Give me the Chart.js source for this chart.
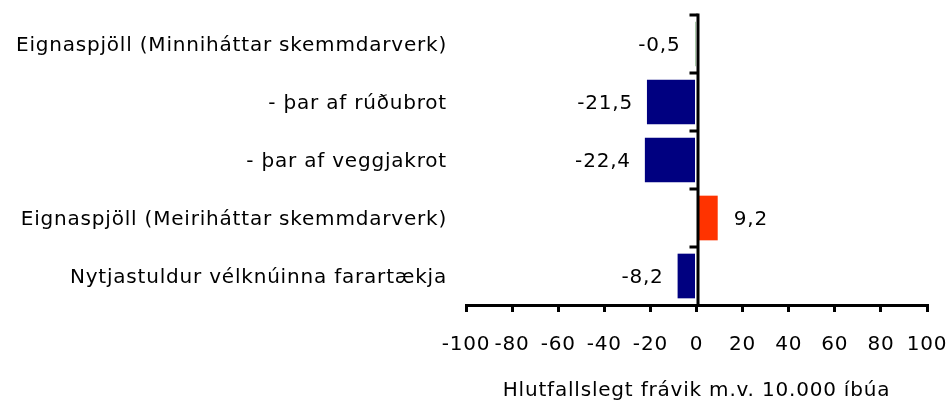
<!DOCTYPE html>
<html>
<head>
<meta charset="utf-8">
<script src="https://cdn.jsdelivr.net/npm/chart.js@4/dist/chart.umd.min.js"></script>
<style>
html,body{margin:0;padding:0;background:#fff;}
#c{display:block;}
</style>
</head>
<body>
<canvas id="c" width="948" height="401"></canvas>
<script>
const categories = [
  'Eignaspjöll (Minniháttar skemmdarverk)',
  '- þar af rúðubrot',
  '- þar af veggjakrot',
  'Eignaspjöll (Meiriháttar skemmdarverk)',
  'Nytjastuldur vélknúinna farartækja'
];
const values = [-0.5, -21.5, -22.4, 9.2, -8.2];
const barColors = ['#006400', '#000080', '#000080', '#FF3300', '#000080'];
const xMin = -100, xMax = 100, xStep = 20;
const xTitle = 'Hlutfallslegt frávik m.v. 10.000 íbúa';

const FONT = {family: 'DejaVu Sans', size: 20};
const TXT = '#000';
const SPACING = '0.8px';

const spacingPlugin = {
  id: 'spacing',
  beforeUpdate(chart) { chart.ctx.letterSpacing = SPACING; },
  beforeLayout(chart) { chart.ctx.letterSpacing = SPACING; },
  beforeDraw(chart) { chart.ctx.letterSpacing = SPACING; }
};

const zeroAxis = {
  id: 'zeroAxis',
  afterDatasetsDraw(chart) {
    const {ctx, chartArea, scales} = chart;
    const x0 = scales.x.getPixelForValue(0);
    ctx.save();
    ctx.strokeStyle = '#000';
    ctx.lineWidth = 3;
    ctx.beginPath();
    ctx.moveTo(x0 + 1.5, chartArea.top - 1.5);
    ctx.lineTo(x0 + 1.5, chartArea.bottom);
    ctx.stroke();
    const n = categories.length;
    const step = (chartArea.bottom - chartArea.top) / n;
    ctx.beginPath();
    for (let i = 0; i < n; i++) {
      const y = chartArea.top + i * step;
      ctx.moveTo(x0 - 7, y);
      ctx.lineTo(x0 + 1, y);
    }
    ctx.stroke();
    // data labels
    ctx.letterSpacing = SPACING;
    ctx.font = `${FONT.size}px "${FONT.family}"`;
    ctx.fillStyle = TXT;
    ctx.textBaseline = 'middle';
    const meta = chart.getDatasetMeta(0);
    meta.data.forEach((bar, i) => {
      const v = values[i];
      const txt = v.toFixed(1).replace('.', ',');
      if (v < 0) {
        ctx.textAlign = 'right';
        ctx.fillText(txt, Math.min(bar.x, x0 - 2) - 14, bar.y + 2);
      } else {
        ctx.textAlign = 'left';
        ctx.fillText(txt, bar.x + 16, bar.y + 2);
      }
    });
    ctx.restore();
  }
};

new Chart(document.getElementById('c'), {
  type: 'bar',
  data: {
    labels: categories,
    datasets: [{
      data: values,
      backgroundColor: barColors,
      borderWidth: 0,
      barPercentage: 0.77,
      categoryPercentage: 1
    }]
  },
  options: {
    indexAxis: 'y',
    responsive: false,
    animation: false,
    devicePixelRatio: 1,
    layout: {padding: {top: 15, right: 21, left: 0, bottom: 0}},
    plugins: {legend: {display: false}, tooltip: {enabled: false}},
    scales: {
      x: {
        min: xMin, max: xMax,
        afterFit(s) { s.height = 96; s.paddingLeft = 0; s.paddingRight = 0; },
        ticks: {stepSize: xStep, font: FONT, color: TXT, padding: 21, maxRotation: 0, autoSkip: false},
        grid: {display: true, drawOnChartArea: false, drawTicks: true, tickLength: 7, color: '#000', lineWidth: 3},
        border: {display: true, color: '#000', width: 3},
        title: {display: true, text: xTitle, font: FONT, color: TXT, padding: {top: 0, bottom: -2}}
      },
      y: {
        afterFit(s) { s.width = 466; s.paddingTop = 0; s.paddingBottom = 0; },
        grid: {display: false, drawTicks: false},
        border: {display: false},
        ticks: {font: FONT, color: TXT, padding: 19, labelOffset: 2}
      }
    }
  },
  plugins: [spacingPlugin, zeroAxis]
});
</script>
</body>
</html>
